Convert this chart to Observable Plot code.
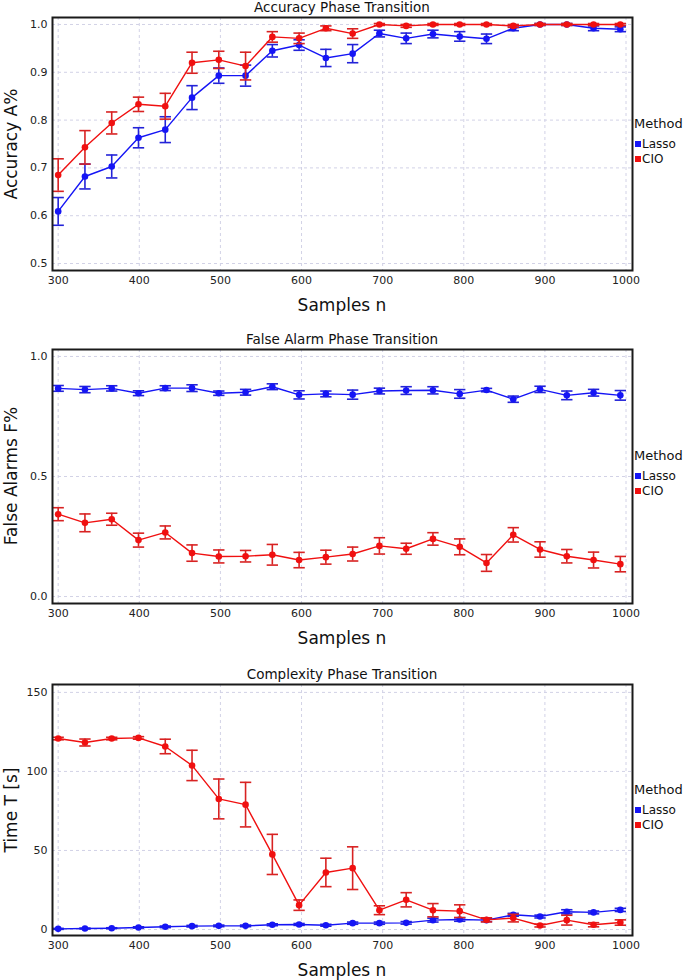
<!DOCTYPE html>
<html>
<head>
<meta charset="utf-8">
<script src="https://cdn.jsdelivr.net/npm/d3@7"></script>
<script src="https://cdn.jsdelivr.net/npm/@observablehq/plot@0.6"></script>
<style>
  html, body { margin: 0; padding: 0; background: #fff; }
  #root { position: relative; width: 685px; height: 980px; font-family: "DejaVu Sans", sans-serif; color: #111; }
  .abs { position: absolute; white-space: nowrap; }
  .title { font-size: 13.5px; transform: translate(-50%, -50%); }
  .xlab { font-size: 17px; transform: translate(-50%, -50%); }
  .ylab { font-size: 17px; transform: translate(-50%, -50%) rotate(-90deg); }
  .legtitle { font-size: 13px; transform: translateY(-50%); }
  .legitem { font-size: 12px; transform: translateY(-50%); display: flex; align-items: center; }
  .sw { display: inline-block; width: 6px; height: 6px; margin-right: 1px; }
  svg { position: absolute; left: 0; }
</style>
</head>
<body>
<div id="root"></div>
<script>
// ---- data ----
const samples = [300,333,366,399,432,465,498,531,564,597,630,663,696,729,762,795,828,861,894,927,960,993];
const methods = ["Lasso", "CIO"];
const methodColors = ["#1515f5", "#f01010"];
const errColors = ["#2323d8", "#d82222"];
const xTicks = [300,400,500,600,700,800,900,1000];

const accLasso    = [0.609,0.682,0.703,0.763,0.780,0.847,0.893,0.893,0.945,0.957,0.930,0.939,0.981,0.971,0.980,0.975,0.970,0.992,1.000,1.000,0.992,0.990];
const accLassoErr = [0.029,0.026,0.024,0.021,0.027,0.025,0.016,0.022,0.013,0.011,0.018,0.019,0.007,0.011,0.008,0.010,0.010,0.005,0.002,0.002,0.005,0.005];
const accCio      = [0.685,0.743,0.794,0.833,0.829,0.920,0.926,0.913,0.974,0.971,0.992,0.981,1.000,0.997,1.000,1.000,1.000,0.997,1.000,1.000,1.000,1.000];
const accCioErr   = [0.034,0.035,0.023,0.015,0.027,0.022,0.018,0.029,0.011,0.011,0.005,0.010,0.002,0.003,0.002,0.002,0.002,0.003,0.002,0.002,0.002,0.002];
const accTicks = [0.5,0.6,0.7,0.8,0.9,1.0];

const faLasso    = [0.867,0.862,0.867,0.847,0.868,0.868,0.847,0.851,0.874,0.840,0.844,0.841,0.856,0.858,0.859,0.844,0.860,0.822,0.863,0.838,0.849,0.838];
const faLassoErr = [0.012,0.013,0.011,0.010,0.010,0.014,0.009,0.012,0.012,0.017,0.012,0.019,0.012,0.016,0.015,0.018,0.007,0.013,0.013,0.018,0.014,0.020];
const faCio      = [0.343,0.307,0.322,0.235,0.267,0.181,0.167,0.168,0.174,0.152,0.164,0.177,0.211,0.199,0.240,0.207,0.140,0.257,0.196,0.168,0.152,0.135];
const faCioErr   = [0.027,0.037,0.025,0.029,0.027,0.034,0.027,0.024,0.043,0.032,0.029,0.029,0.034,0.023,0.026,0.033,0.035,0.030,0.032,0.028,0.033,0.032];
const faTicks = [0.0,0.5,1.0];

const tLasso    = [0.4,0.6,0.8,1.3,1.7,2.1,2.3,2.3,3.0,3.2,2.7,4.0,4.0,4.2,5.9,6.3,5.9,9.3,8.2,11.2,10.8,12.4];
const tLassoErr = [0.3,0.3,0.3,0.4,0.5,0.5,0.5,0.5,0.6,0.6,0.6,0.7,0.7,0.8,1.2,1.1,0.9,0.9,0.9,1.3,0.9,1.0];
const tCio      = [120.8,118.3,120.8,121.2,115.8,103.8,82.6,79.0,47.5,15.4,36.1,38.8,12.2,18.8,12.2,11.6,6.1,7.2,2.5,5.9,3.0,4.4];
const tCioErr   = [0.8,2.2,0.8,0.8,4.6,9.6,12.6,14.1,12.7,3.3,9.0,13.5,2.8,4.5,4.2,4.0,1.3,2.4,0.9,3.1,1.3,1.7];
const tTicks = [0,50,100,150];

const titles = ["Accuracy Phase Transition", "False Alarm Phase Transition", "Complexity Phase Transition"];
const yLabels = ["Accuracy A%", "False Alarms F%", "Time T [s]"];
const xLabel = "Samples n";
const legendTitle = "Method";

// ---- drawing ----
const root = document.getElementById("root");

function rows(vals, errs, mi) {
  return samples.map((n, i) => ({n, v: vals[i], lo: vals[i] - errs[i], hi: vals[i] + errs[i], m: methods[mi]}));
}

function addDiv(cls, text, x, y) {
  const d = document.createElement("div");
  d.className = "abs " + cls;
  d.textContent = text;
  d.style.left = x + "px";
  d.style.top = y + "px";
  root.appendChild(d);
  return d;
}

function panel(cfg) {
  const series = [rows(cfg.lasso, cfg.lassoErr, 0), rows(cfg.cio, cfg.cioErr, 1)];
  const capHalf = 7;
  const marks = [
    Plot.gridX(xTicks, {stroke: "#d2d2e6", strokeOpacity: 1, strokeDasharray: "3,3"}),
    Plot.gridY(cfg.ticks, {stroke: "#d2d2e6", strokeOpacity: 1, strokeDasharray: "3,3"})
  ];
  series.forEach((data, k) => {
    marks.push(
      Plot.ruleX(data, {x: "n", y1: "lo", y2: "hi", stroke: errColors[k], strokeWidth: 1.6}),
      Plot.link(data, {x1: d => d.n - capHalf, x2: d => d.n + capHalf, y1: "hi", y2: "hi", stroke: errColors[k], strokeWidth: 1.6}),
      Plot.link(data, {x1: d => d.n - capHalf, x2: d => d.n + capHalf, y1: "lo", y2: "lo", stroke: errColors[k], strokeWidth: 1.6}),
      Plot.line(data, {x: "n", y: "v", stroke: methodColors[k], strokeWidth: 1.4}),
      Plot.dot(data, {x: "n", y: "v", fill: methodColors[k], r: 3.3})
    );
  });
  marks.push(Plot.frame({stroke: "#1a1a1a", strokeWidth: 2}));

  const svg = Plot.plot({
    width: 685,
    height: cfg.height,
    marginLeft: 52,
    marginRight: 53,
    marginTop: cfg.mt,
    marginBottom: cfg.mb,
    style: {fontFamily: "DejaVu Sans, sans-serif", fontSize: "11px", color: "#222", background: "transparent", overflow: "visible"},
    x: {domain: [293, 1008], ticks: xTicks, tickFormat: d3.format("d"), tickSize: 0, tickPadding: 6, label: null},
    y: {domain: cfg.domain, ticks: cfg.ticks, tickFormat: cfg.fmt, tickSize: 0, tickPadding: 5, label: null},
    marks
  });
  svg.style.top = cfg.top + "px";
  root.appendChild(svg);

  const fTop = cfg.top + cfg.mt;
  const fBot = cfg.top + cfg.height - cfg.mb;
  const mid = (fTop + fBot) / 2;
  addDiv("title", cfg.title, 342, fTop - 10);
  addDiv("xlab", xLabel, 342, fBot + 35);
  addDiv("ylab", cfg.ylabel, 11, mid);
  addDiv("legtitle", legendTitle, 634, mid - 21);
  methods.forEach((m, k) => {
    const d = addDiv("legitem", "", 635, mid + k * 15);
    const sw = document.createElement("span");
    sw.className = "sw";
    sw.style.background = methodColors[k];
    d.appendChild(sw);
    d.appendChild(document.createTextNode(m));
  });
}

panel({top: 0, height: 300, mt: 17, mb: 30, domain: [0.4854, 1.0146], ticks: accTicks, fmt: d3.format(".1f"),
  lasso: accLasso, lassoErr: accLassoErr, cio: accCio, cioErr: accCioErr, title: titles[0], ylabel: yLabels[0]});
panel({top: 320, height: 300, mt: 29, mb: 17, domain: [-0.029, 1.029], ticks: faTicks, fmt: d3.format(".1f"),
  lasso: faLasso, lassoErr: faLassoErr, cio: faCio, cioErr: faCioErr, title: titles[1], ylabel: yLabels[1]});
panel({top: 655, height: 300, mt: 29, mb: 20, domain: [-3.8, 155], ticks: tTicks, fmt: d3.format("d"),
  lasso: tLasso, lassoErr: tLassoErr, cio: tCio, cioErr: tCioErr, title: titles[2], ylabel: yLabels[2]});
</script>
</body>
</html>
